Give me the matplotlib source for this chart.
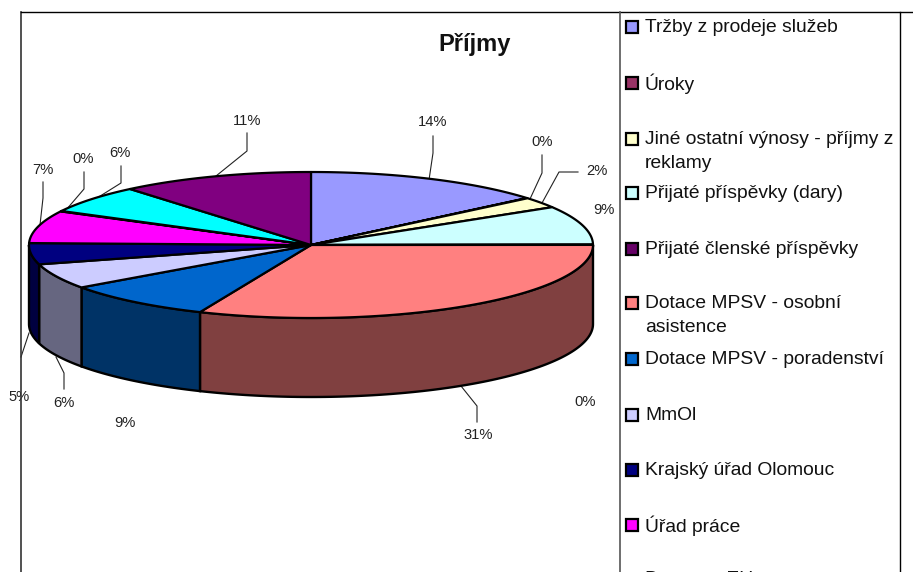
import numpy as np
import matplotlib
matplotlib.use("Agg")
import matplotlib.pyplot as plt
from matplotlib.patches import Polygon, Rectangle

plt.rcParams["font.family"] = ["Liberation Sans", "DejaVu Sans"]

# shares
categories = ["Tržby z prodeje služeb", "Úroky", "Jiné ostatní výnosy - příjmy z\nreklamy",
              "Přijaté příspěvky (dary)", "Přijaté členské příspěvky",
              "Dotace MPSV - osobní\nasistence", "Dotace MPSV - poradenství", "MmOl",
              "Krajský úřad Olomouc", "Úřad práce", "Dotace z EU", "Nadace", "Ostatní"]
values = [13.9, 0.05, 2.4, 8.6, 0.05, 31.49, 8.7, 5.6, 4.7, 7.2, 0.1, 6.2, 11.1]
colors = ["#9999FF", "#993366", "#FFFFCC", "#CCFFFF", "#660066", "#FF8080", "#0066CC",
          "#CCCCFF", "#000080", "#FF00FF", "#FFFF00", "#00FFFF", "#800080"]
legend_rows = [27, 83, 139, 193, 249, 303, 359, 415, 470, 525, 579]

# label position + leader line, pixels
label_pos = [(433, 122), (542, 142), (597, 171), (604, 210), (585, 402), (478, 435), (125, 423),
             (64, 403), (19, 397), (43, 170), (83, 159), (120, 153), (247, 121)]
leaders = {0: [(433, 136), (433, 153), (429, 180)],
           1: [(542, 155), (542, 173), (530, 199)],
           2: [(578, 172), (559, 172), (542, 203)],
           5: [(477, 422), (477, 406), (461, 386)],
           7: [(64, 389), (64, 373), (56, 357)],
           8: [(21, 357), (29, 333)],
           9: [(43, 182), (43, 198), (40, 225)],
           10: [(84, 172), (84, 189), (66, 210)],
           11: [(121, 166), (121, 183), (97, 198)],
           12: [(247, 133), (247, 151), (216, 176)]}

cx, cy, rx, ry, depth = 311, 245, 282, 73, 79


def rim(a0, a1, dy=0):
    t = np.linspace(a0, a1, max(int((a1 - a0) * 60), 2))
    return np.column_stack([cx + rx * np.sin(t), cy + dy - ry * np.cos(t)])


def darker(c):
    return tuple(v * 0.5 for v in matplotlib.colors.to_rgb(c))


fig = plt.figure(figsize=(9.13, 5.72), dpi=100)
ax = fig.add_axes([0, 0, 1, 1])
ax.set_xlim(0, 913)
ax.set_ylim(572, 0)
ax.axis("off")

edges = np.concatenate([[0], np.cumsum(values)]) / sum(values) * 2 * np.pi

# side wall first, only the front half of the pie shows it
for i in range(len(values)):
    a0, a1 = max(edges[i], np.pi / 2), min(edges[i + 1], 3 * np.pi / 2)
    if a1 <= a0:
        continue
    pts = np.vstack([rim(a0, a1), rim(a0, a1, depth)[::-1]])
    ax.add_patch(Polygon(pts, closed=True, fc=darker(colors[i]), ec="black", lw=1.7, zorder=2))

for i in range(len(values)):
    pts = np.vstack([[cx, cy], rim(edges[i], edges[i + 1])])
    ax.add_patch(Polygon(pts, closed=True, fc=colors[i], ec="black", lw=1.6, joinstyle="round", zorder=3))

for i, val in enumerate(values):
    x, y = label_pos[i]
    ax.text(x, y, f"{val:.0f}%", fontsize=10.6, color="#222222", ha="center", va="center", zorder=5)
for pts in leaders.values():
    xs, ys = zip(*pts)
    ax.plot(xs, ys, color="#222222", lw=0.8, zorder=1)

ax.text(474.5, 44, "Příjmy", fontsize=17, fontweight="bold", ha="center", va="center", color="#111111")

# frame of the chart and of the legend
ax.plot([21, 21], [11.5, 572], color="#333333", lw=1.2, zorder=6)
ax.plot([21, 913], [11.5, 11.5], color="black", lw=1.0, zorder=6)
ax.plot([619.5, 619.5], [11.5, 572], color="#555555", lw=1.2, zorder=6)
ax.plot([899.5, 899.5], [11.5, 572], color="black", lw=1.0, zorder=6)

for i, y in enumerate(legend_rows):
    if y < 570:
        ax.add_patch(Rectangle((626, y - 6), 12, 12, fc=colors[i], ec="black", lw=1.6, zorder=6))
    first = categories[i].split("\n")
    ax.text(645, y + 0.5, first[0], fontsize=13.9, va="center", color="#111111", zorder=6)
    if len(first) > 1:
        ax.text(645, y + 24, first[1], fontsize=13.9, va="center", color="#111111", zorder=6)

fig.savefig("out.png", dpi=100)
